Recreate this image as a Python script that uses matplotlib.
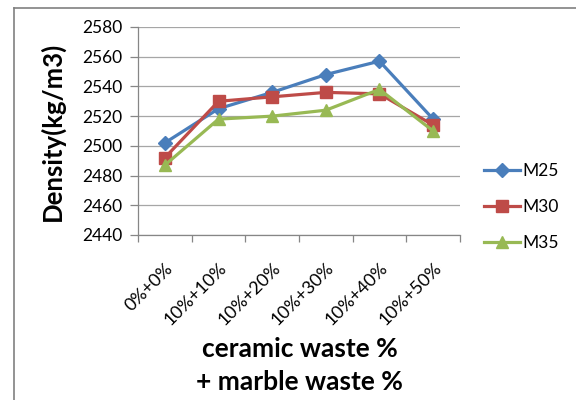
import matplotlib.pyplot as plt
from matplotlib.lines import Line2D

plt.rcParams['font.family'] = ['Lato', 'DejaVu Sans']

categories = ['0%+0%', '10%+10%', '10%+20%', '10%+30%', '10%+40%', '10%+50%']
m25 = [2502, 2525, 2536, 2548, 2557, 2518]
m30 = [2492, 2530, 2533, 2536, 2535, 2514]
m35 = [2487, 2518, 2520, 2524, 2538, 2510]
series_names = ['M25', 'M30', 'M35']

fig = plt.figure(figsize=(5.76, 4.0), dpi=100)
ax = fig.add_axes([0.2396, 0.4125, 0.559, 0.52])

x = list(range(len(categories)))
ax.plot(x, m25, color='#4A7EBB', lw=2.3, marker='D', ms=7, label=series_names[0])
ax.plot(x, m30, color='#BE4B48', lw=2.3, marker='s', ms=8.5, label=series_names[1])
ax.plot(x, m35, color='#98B954', lw=2.3, marker='^', ms=9, label=series_names[2])

ax.set_xlim(-0.5, len(categories) - 0.5)
ax.set_ylim(2440, 2580)
ax.set_yticks(range(2440, 2581, 20))
ax.yaxis.grid(True, color='#A6A6A6', lw=0.9)
ax.set_axisbelow(True)

# category labels sit between the boundary tick marks
ax.set_xticks([i - 0.5 for i in range(len(categories) + 1)])
ax.set_xticklabels([])
ax.set_xticks(x, minor=True)
ax.set_xticklabels(categories, minor=True, rotation=45, ha='right',
                   rotation_mode='anchor', fontsize=13)
ax.tick_params(axis='x', which='minor', length=0, pad=18)
ax.tick_params(axis='x', which='major', length=5, color='#868686', width=0.9)
ax.tick_params(axis='y', length=6, color='#868686', width=0.9, labelsize=12.5, pad=5)

for side in ['top', 'right']:
    ax.spines[side].set_visible(False)
for side in ['left', 'bottom']:
    ax.spines[side].set_color('#868686')
    ax.spines[side].set_linewidth(0.9)

ax.set_ylabel('Density(kg/m3)', fontsize=18.5, fontweight='bold', labelpad=13)
fig.text(0.52, 0.086, 'ceramic waste %\n+ marble waste %', ha='center', va='center',
         fontsize=19, fontweight='bold', linespacing=1.45)

ax.legend(loc='center left', bbox_to_anchor=(0.84, 0.483), bbox_transform=fig.transFigure,
          frameon=False, fontsize=12.5, handlelength=2.1, labelspacing=1.15,
          handletextpad=0.1, borderaxespad=0, borderpad=0)

# outer chart frame (left and top edges)
fig.add_artist(Line2D([0.0245, 0.0245], [0.0, 0.98], transform=fig.transFigure,
                      color='#808080', lw=1.2))
fig.add_artist(Line2D([0.0245, 1.0], [0.98, 0.98], transform=fig.transFigure,
                      color='#808080', lw=1.2))

fig.savefig('out.png', dpi=100)
